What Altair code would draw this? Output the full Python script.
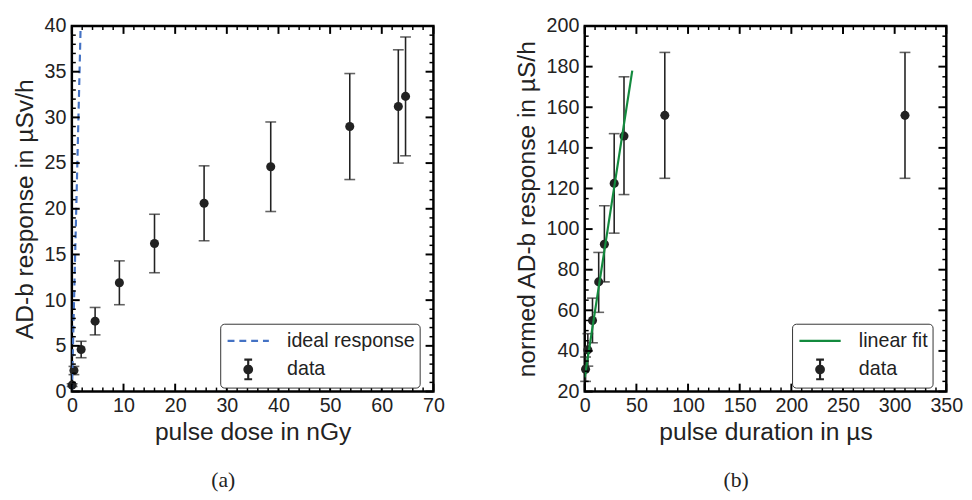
import altair as alt
import pandas as pd

# ---------------- panel (a) ----------------
dose = [0.05, 0.4, 1.8, 4.5, 9.2, 16.0, 25.6, 38.5, 53.8, 63.2, 64.6]
resp = [0.7, 2.3, 4.6, 7.7, 11.9, 16.2, 20.6, 24.6, 29.0, 31.2, 32.3]
resp_lo = [0.55, 1.85, 3.7, 6.2, 9.5, 13.0, 16.5, 19.7, 23.2, 25.0, 25.8]
resp_hi = [0.85, 2.75, 5.5, 9.2, 14.3, 19.4, 24.7, 29.5, 34.8, 37.4, 38.8]
ideal_x = [0.0, 1.7]
ideal_y = [0.0, 40.0]
a_xticks = [0, 10, 20, 30, 40, 50, 60, 70]
a_yticks = [0, 5, 10, 15, 20, 25, 30, 35, 40]

# ---------------- panel (b) ----------------
dur = [0.8, 3.0, 7.5, 13.5, 19.0, 28.5, 38.0, 77.5, 310.0]
nresp = [31.0, 40.5, 55.0, 74.0, 92.5, 122.5, 145.8, 156.0, 156.0]
nresp_lo = [25.0, 32.5, 44.0, 59.0, 74.0, 98.0, 117.0, 125.0, 125.0]
nresp_hi = [37.0, 48.5, 66.0, 88.5, 111.5, 147.0, 175.0, 187.0, 187.0]
fit_x = [0.0, 46.0]
fit_y = [27.0, 178.0]
b_xticks = [0, 50, 100, 150, 200, 250, 300, 350]
b_yticks = [20, 40, 60, 80, 100, 120, 140, 160, 180, 200]

FONT = "Liberation Sans"
SERIF = "Liberation Serif"
INK = "#222222"
BLUE = "#4472c4"
GREEN = "#138a3e"
# legend glyph: error bar with caps and a (stroke-filled) dot
ERR_PATH = ("M0,-0.83L0,0.83M-0.33,-0.83L0.33,-0.83M-0.33,0.83L0.33,0.83"
            "M-0.32,0A0.32,0.32,0,1,0,0.32,0A0.32,0.32,0,1,0,-0.32,0Z"
            "M-0.2,0A0.2,0.2,0,1,0,0.2,0A0.2,0.2,0,1,0,-0.2,0Z"
            "M-0.08,0A0.08,0.08,0,1,0,0.08,0A0.08,0.08,0,1,0,-0.08,0Z")
LINE_PATH = "M-1.75,0L1.75,0"

PW, PH = 368, 372
MAJ_LEN, MIN_LEN = 8, 4


def minor(lo, hi, step, majors):
    out = []
    v = lo
    while v <= hi + 1e-9:
        r = round(v, 6)
        if r not in majors:
            out.append(r)
        v += step
    return out


def label_axis(orient, values, title, lpad, tpad):
    return alt.Axis(orient=orient, values=values, title=title, ticks=False,
                    domain=False, grid=False, labelPadding=lpad, labelFlush=False,
                    labelOverlap=False,
                    labelFont=FONT, labelFontSize=20, labelColor=INK,
                    titleFont=FONT, titleFontSize=25, titleColor=INK,
                    titleFontWeight="normal", titlePadding=tpad)


def tick_layers(xs, ys, xmaj, xmin, ymaj, ymin):
    layers = []
    for vals, ln, w in [(xmaj, MAJ_LEN, 2), (xmin, MIN_LEN, 1.5)]:
        d = pd.DataFrame({"v": vals})
        base = alt.Chart(d).mark_rule(color="black", strokeWidth=w)
        xe = alt.X("v:Q", scale=xs)
        layers.append(base.encode(x=xe, y=alt.value(PH), y2=alt.value(PH - ln)))
        layers.append(base.encode(x=xe, y=alt.value(0), y2=alt.value(ln)))
    for vals, ln, w in [(ymaj, MAJ_LEN, 2), (ymin, MIN_LEN, 1.5)]:
        d = pd.DataFrame({"v": vals})
        base = alt.Chart(d).mark_rule(color="black", strokeWidth=w)
        ye = alt.Y("v:Q", scale=ys)
        layers.append(base.encode(y=ye, x=alt.value(0), x2=alt.value(ln)))
        layers.append(base.encode(y=ye, x=alt.value(PW), x2=alt.value(PW - ln)))
    return layers


def panel(df, dline, xdom, ydom, xmaj, xmin_step, ymaj, ymin_step, xtitle, ytitle,
          line_name, line_color, line_dash, legend_dash, caption, lx, ly):
    xs = alt.Scale(domain=xdom, nice=False, zero=False)
    ys = alt.Scale(domain=ydom, nice=False, zero=False)
    xmin = minor(xdom[0], xdom[1], xmin_step, xmaj)
    ymin = minor(ydom[0], ydom[1], ymin_step, ymaj)

    rules = alt.Chart(df).mark_rule(color=INK, strokeWidth=1.6).encode(
        x=alt.X("x:Q", scale=xs, axis=label_axis("bottom", xmaj, xtitle, 4, 5)),
        y=alt.Y("lo:Q", scale=ys, axis=label_axis("left", ymaj, ytitle, 6, 7)),
        y2="hi:Q",
    )
    caps = alt.Chart(df).transform_fold(["lo", "hi"], as_=["end", "v"]).mark_tick(
        orient="horizontal", color=INK, size=11, thickness=1.6
    ).encode(
        x=alt.X("x:Q", scale=xs),
        y=alt.Y("v:Q", scale=ys),
    )
    pts = alt.Chart(df).mark_circle(size=85, color=INK, opacity=1).encode(
        x=alt.X("x:Q", scale=xs),
        y=alt.Y("y:Q", scale=ys),
    )
    line_kw = dict(color=line_color, strokeWidth=2.2, clip=True)
    if line_dash:
        line_kw["strokeDash"] = line_dash
    line = alt.Chart(dline).mark_line(**line_kw).encode(
        x=alt.X("x:Q", scale=xs),
        y=alt.Y("y:Q", scale=ys),
    )
    dom = [line_name, "data"]
    leg = alt.Chart(df).mark_point(opacity=0, filled=True).encode(
        x=alt.X("x:Q", scale=xs),
        y=alt.Y("y:Q", scale=ys),
        fill=alt.Fill("series:N", scale=alt.Scale(domain=dom, range=[line_color, INK]),
                      legend=alt.Legend(title=None, orient="none", legendX=lx, legendY=ly,
                                        labelFont=FONT, labelFontSize=20, labelColor=INK,
                                        symbolSize=576, symbolStrokeWidth=2.2,
                                        symbolOffset=11, labelOffset=26,
                                        padding=4, rowPadding=4,
                                        strokeColor="#333333", cornerRadius=4,
                                        fillColor="white", labelLimit=300)),
        stroke=alt.Stroke("series:N", scale=alt.Scale(domain=dom, range=[line_color, INK])),
        shape=alt.Shape("series:N", scale=alt.Scale(domain=dom, range=[LINE_PATH, ERR_PATH])),
        strokeDash=alt.StrokeDash("series:N", scale=alt.Scale(domain=dom, range=[legend_dash, [1, 0]])),
    )
    layers = [rules, caps, pts, line, leg] + tick_layers(xs, ys, xmaj, xmin, ymaj, ymin)
    return alt.layer(*layers).properties(
        width=PW, height=PH,
        title=alt.TitleParams(text="(" + caption + ")", orient="bottom", font=SERIF,
                              fontSize=22, fontWeight="normal", color=INK, dx=-30, offset=26),
    )


df_a = pd.DataFrame({"x": dose, "y": resp, "lo": resp_lo, "hi": resp_hi, "series": "data"})
line_a = pd.DataFrame({"x": ideal_x, "y": ideal_y})
df_b = pd.DataFrame({"x": dur, "y": nresp, "lo": nresp_lo, "hi": nresp_hi, "series": "data"})
line_b = pd.DataFrame({"x": fit_x, "y": fit_y})

left = panel(df_a, line_a, [0, 70], [0, 40], a_xticks, 2, a_yticks, 1,
             "pulse dose in nGy", "AD-b response in µSv/h", "ideal response", BLUE,
             [7, 5], [7, 5], "a", 151, 303)
right = panel(df_b, line_b, [0, 350], [20, 200], b_xticks, 10, b_yticks, 5,
              "pulse duration in µs", "normed AD-b response in µS/h", "linear fit", GREEN,
              None, [1, 0], "b", 211, 303)

chart = alt.hconcat(left, right, spacing=68).resolve_scale(
    fill="independent", stroke="independent", shape="independent", strokeDash="independent"
).properties(
    padding={"left": 3, "top": 2, "right": 0, "bottom": 0}
).configure_view(stroke="black", strokeWidth=2.5)

chart.save("out.html", embed_options={"renderer": "svg", "actions": False})
